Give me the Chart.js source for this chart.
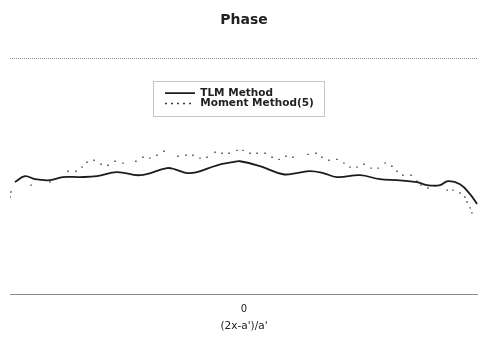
<!DOCTYPE html>
<html>
<head>
<meta charset="utf-8">
<script src="https://cdn.jsdelivr.net/npm/chart.js@4.4.1/dist/chart.umd.min.js"></script>
<style>
  html, body { margin: 0; padding: 0; background: #ffffff; }
  #wrap { width: 478px; height: 340px; }
</style>
</head>
<body>
<div id="wrap"><canvas id="c" width="478" height="340"></canvas></div>
<script>
// Normalised position (2x-a')/a' and phase for the TLM solution
const tlmX = [-0.979, -0.936, -0.893, -0.829, -0.774, -0.701, -0.628, -0.543, -0.444, -0.329,
  -0.295, -0.244, -0.201, -0.115, -0.047, -0.017, 0.068, 0.167, 0.226, 0.282,
  0.338, 0.397, 0.496, 0.581, 0.654, 0.739, 0.782, 0.838, 0.872, 0.923, 0.966, 0.996];
const tlmPhase = [4.75, 5.00, 4.87, 4.83, 4.96, 4.96, 5.00, 5.17, 5.04, 5.34,
  5.29, 5.13, 5.17, 5.46, 5.59, 5.63, 5.42, 5.08, 5.13, 5.21,
  5.13, 4.96, 5.04, 4.87, 4.83, 4.75, 4.62, 4.62, 4.79, 4.66, 4.24, 3.82];

// Moment method reference samples [5]
const momX = [-1.000, -0.996, -0.910, -0.829, -0.752, -0.718, -0.692, -0.671, -0.641, -0.611,
  -0.581, -0.551, -0.517, -0.462, -0.432, -0.402, -0.372, -0.342, -0.282, -0.248,
  -0.218, -0.188, -0.158, -0.124, -0.094, -0.064, -0.030, -0.004, 0.026, 0.056,
  0.090, 0.120, 0.150, 0.179, 0.209, 0.274, 0.308, 0.333, 0.363, 0.397,
  0.427, 0.453, 0.483, 0.513, 0.543, 0.573, 0.603, 0.632, 0.654, 0.679,
  0.714, 0.739, 0.756, 0.786, 0.816, 0.868, 0.893, 0.923, 0.944, 0.953,
  0.966, 0.974];
const momPhase = [4.12, 4.33, 4.62, 4.75, 5.21, 5.21, 5.38, 5.59, 5.67, 5.50,
  5.46, 5.63, 5.55, 5.63, 5.80, 5.76, 5.88, 6.05, 5.84, 5.88,
  5.88, 5.76, 5.80, 6.01, 5.97, 5.97, 6.09, 6.09, 5.97, 5.97,
  5.97, 5.80, 5.71, 5.84, 5.80, 5.92, 5.97, 5.80, 5.67, 5.71,
  5.55, 5.38, 5.38, 5.50, 5.34, 5.34, 5.55, 5.42, 5.21, 5.04,
  5.04, 4.79, 4.62, 4.50, 4.58, 4.41, 4.41, 4.29, 4.12, 3.91,
  3.66, 3.45];

const seriesNames = ['TLM Method', 'Moment Method(5)'];
const xTickValues = [0];
const chartTitle = 'Phase';
const xAxisTitle = "(2x-a')/a'";

const toPoints = (xs, ys) => xs.map((x, i) => ({ x: x, y: ys[i] }));

// Place the legend inside the plot, below the top frame line
const legendInside = {
  id: 'legendInside',
  afterLayout(chart) {
    const lg = chart.legend;
    const a = chart.chartArea;
    if (!lg || !a) return;
    lg.left = a.left + 155;
    lg.top = a.top + 30;
    lg.width = 190;
    lg.height = 40;
    lg.right = lg.left + lg.width;
    lg.bottom = lg.top + lg.height;
  },
  afterDraw(chart) {
    const lg = chart.legend;
    const boxes = lg && lg.legendHitBoxes;
    if (!boxes || !boxes.length) return;
    let l = Infinity, t = Infinity, r = -Infinity, b = -Infinity;
    boxes.forEach(h => {
      l = Math.min(l, h.left); t = Math.min(t, h.top);
      r = Math.max(r, h.left + h.width); b = Math.max(b, h.top + h.height);
    });
    const ctx = chart.ctx;
    ctx.save();
    ctx.strokeStyle = '#8a8a8a';
    ctx.lineWidth = 1;
    ctx.setLineDash([1, 1]);
    ctx.strokeRect(Math.round(l - 12) + 0.5, Math.round(t - 7) + 0.5,
      Math.round(r - l + 22), Math.round(b - t + 14));
    ctx.restore();
  }
};

// Dotted top frame line of the plot
const topFrame = {
  id: 'topFrame',
  beforeDatasetsDraw(chart) {
    const a = chart.chartArea;
    const ctx = chart.ctx;
    ctx.save();
    ctx.strokeStyle = '#8a8a8a';
    ctx.lineWidth = 1;
    ctx.setLineDash([1, 1]);
    ctx.beginPath();
    ctx.moveTo(a.left, Math.round(a.top) + 0.5);
    ctx.lineTo(a.right, Math.round(a.top) + 0.5);
    ctx.stroke();
    ctx.restore();
  }
};

new Chart(document.getElementById('c'), {
  type: 'line',
  data: {
    datasets: [
      {
        label: seriesNames[0],
        data: toPoints(tlmX, tlmPhase),
        borderColor: '#1c1c1c',
        backgroundColor: '#1c1c1c',
        borderWidth: 1.8,
        pointRadius: 0,
        tension: 0.4,
        fill: false
      },
      {
        label: seriesNames[1],
        data: toPoints(momX, momPhase),
        showLine: false,
        borderColor: '#3a3a3a',
        backgroundColor: '#3a3a3a',
        borderWidth: 1,
        borderDash: [2, 4],
        pointRadius: 1,
        pointBorderWidth: 0,
        pointStyle: 'rect'
      }
    ]
  },
  options: {
    responsive: false,
    animation: false,
    devicePixelRatio: 1,
    layout: { autoPadding: false, padding: { left: 10, right: 0, top: 0, bottom: 8 } },
    scales: {
      x: {
        type: 'linear',
        min: -1,
        max: 1,
        afterBuildTicks: (axis) => { axis.ticks = xTickValues.map(v => ({ value: v })); },
        afterFit: (axis) => { axis.paddingLeft = 0; axis.paddingRight = 0; },
        grid: { display: false, drawTicks: false },
        border: { display: true, color: '#8a8a8a', width: 1, dash: [1, 1] },
        ticks: {
          padding: 10,
          color: '#222',
          font: { family: 'DejaVu Sans', size: 10, lineHeight: 1 },
          callback: (v) => String(v)
        },
        title: {
          display: true,
          text: xAxisTitle,
          color: '#222',
          font: { family: 'DejaVu Sans', size: 10.5, lineHeight: 1 },
          padding: { top: -3, bottom: 0 }
        }
      },
      y: {
        display: false,
        min: 0,
        max: 10
      }
    },
    plugins: {
      title: {
        display: true,
        text: chartTitle,
        color: '#222',
        font: { family: 'DejaVu Sans', size: 14, weight: 'bold' },
        padding: { top: 12, bottom: 29 }
      },
      legend: {
        position: 'chartArea',
        align: 'start',
        labels: {
          usePointStyle: true,
          pointStyle: 'line',
          pointStyleWidth: 30,
          padding: 0,
          color: '#222',
          font: { family: 'DejaVu Sans', size: 10.5, weight: 'bold' },
          generateLabels(chart) {
            const base = Chart.defaults.plugins.legend.labels.generateLabels(chart);
            return base.map((item, i) => {
              const ds = chart.data.datasets[i];
              return Object.assign({}, item, {
                strokeStyle: ds.borderColor,
                lineDash: ds.borderDash || [],
                lineWidth: i === 0 ? 1.8 : 1.5,
                pointStyle: 'line'
              });
            });
          }
        }
      },
      tooltip: { enabled: false }
    }
  },
  plugins: [legendInside, topFrame]
});
</script>
</body>
</html>
